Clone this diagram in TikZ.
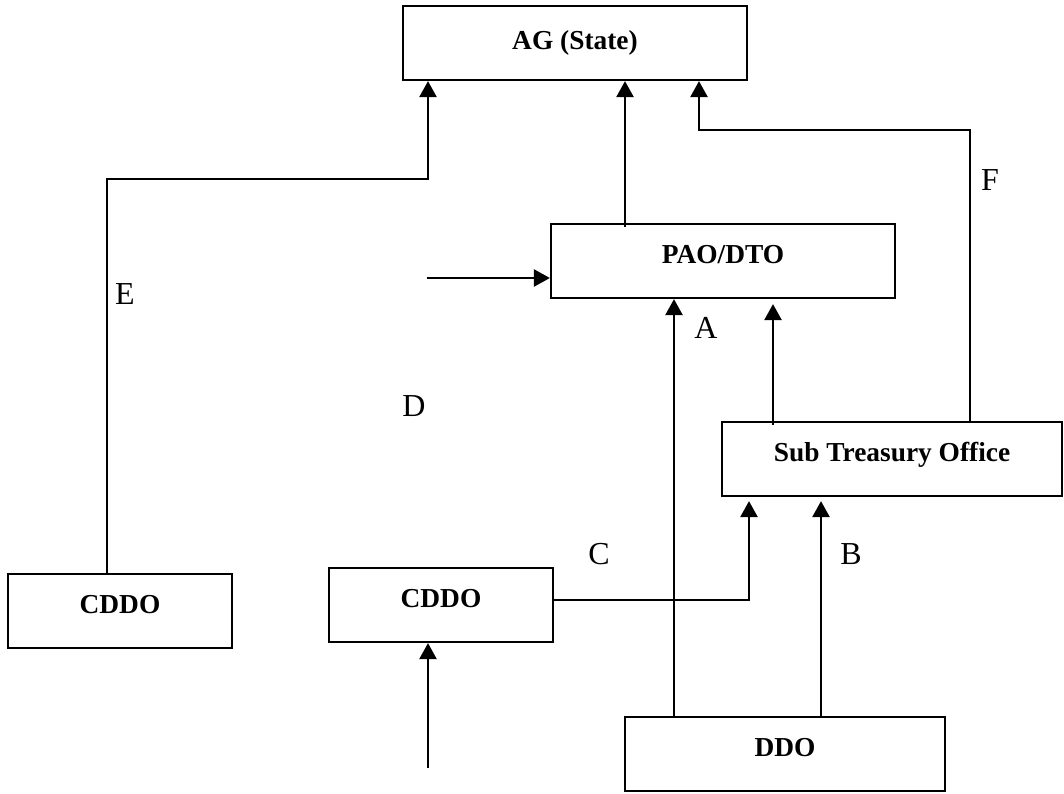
\documentclass[tikz,border=0pt]{standalone}
\usepackage{fontspec}
\setmainfont{Liberation Serif}
\usetikzlibrary{arrows.meta}
\tikzset{
  box/.style={draw, line width=1.1pt, inner sep=0pt, fill=white,
    font=\fontsize{13.7}{16}\selectfont\bfseries, text height=6pt, text depth=4pt},
  arr/.style={line width=1.2pt, -{Triangle[length=8pt,width=8.5pt]}},
  lbl/.style={inner sep=0pt, font=\fontsize{16}{19}\selectfont}
}
\begin{document}
\begin{tikzpicture}[x=0.5pt,y=-0.5pt]
\useasboundingbox (0,0) rectangle (1064,793);
% boxes
\node[box, minimum width=172pt, minimum height=37pt, text height=8pt, text depth=2pt] (ag) at (575,43) {AG (State)};
\node[box, minimum width=172pt, minimum height=37pt] (pao) at (723,261) {PAO/DTO};
\node[box, minimum width=170pt, minimum height=37pt] (sto) at (892,459) {Sub Treasury Office};
\node[box, minimum width=112pt, minimum height=37pt] (cddoL) at (120,611) {CDDO};
\node[box, minimum width=112pt, minimum height=37pt] (cddoM) at (441,605) {CDDO};
\node[box, minimum width=160pt, minimum height=37pt] (ddo) at (785,754) {DDO};
% turn points and free ends
\coordinate (eT) at (428,179);
\coordinate (fT) at (699,130);
\coordinate (pS) at ([xshift=-49pt,yshift=-2pt]pao.north);
\coordinate (dS) at (427,278);
\coordinate (gS) at (428,768);
% connectors
\draw[arr] ([xshift=-6.5pt]cddoL.north) |- (eT) -- (eT |- ag.south);
\draw[arr] (pS) -- (pS |- ag.south);
\draw[arr] ([xshift=39pt]sto.north) |- (fT) -- (fT |- ag.south);
\draw[arr, shorten >=2.5pt] ([xshift=-59.5pt,yshift=-2pt]sto.north) -- ([xshift=25pt]pao.south);
\draw[arr] ([xshift=-55.5pt]ddo.north) -- ([xshift=-24.5pt]pao.south);
\draw[arr, shorten >=2pt] ([xshift=18pt]ddo.north) -- ([xshift=-35.5pt]sto.south);
\draw[arr, shorten >=2pt] ([yshift=2.5pt]cddoM.east) -| ([xshift=-71.5pt]sto.south);
\draw[arr] (dS) -- (dS -| pao.west);
\draw[arr] (gS) -- (gS |- cddoM.south);
% labels
\node[lbl] (lE) at (125,294) {E};
\node[lbl] (lF) at (990,180) {F};
\node[lbl] (lA) at (706,328) {A};
\node[lbl] (lD) at (414,406) {D};
\node[lbl] (lC) at (599,554) {C};
\node[lbl] (lB) at (851,554) {B};
\end{tikzpicture}
\end{document}
